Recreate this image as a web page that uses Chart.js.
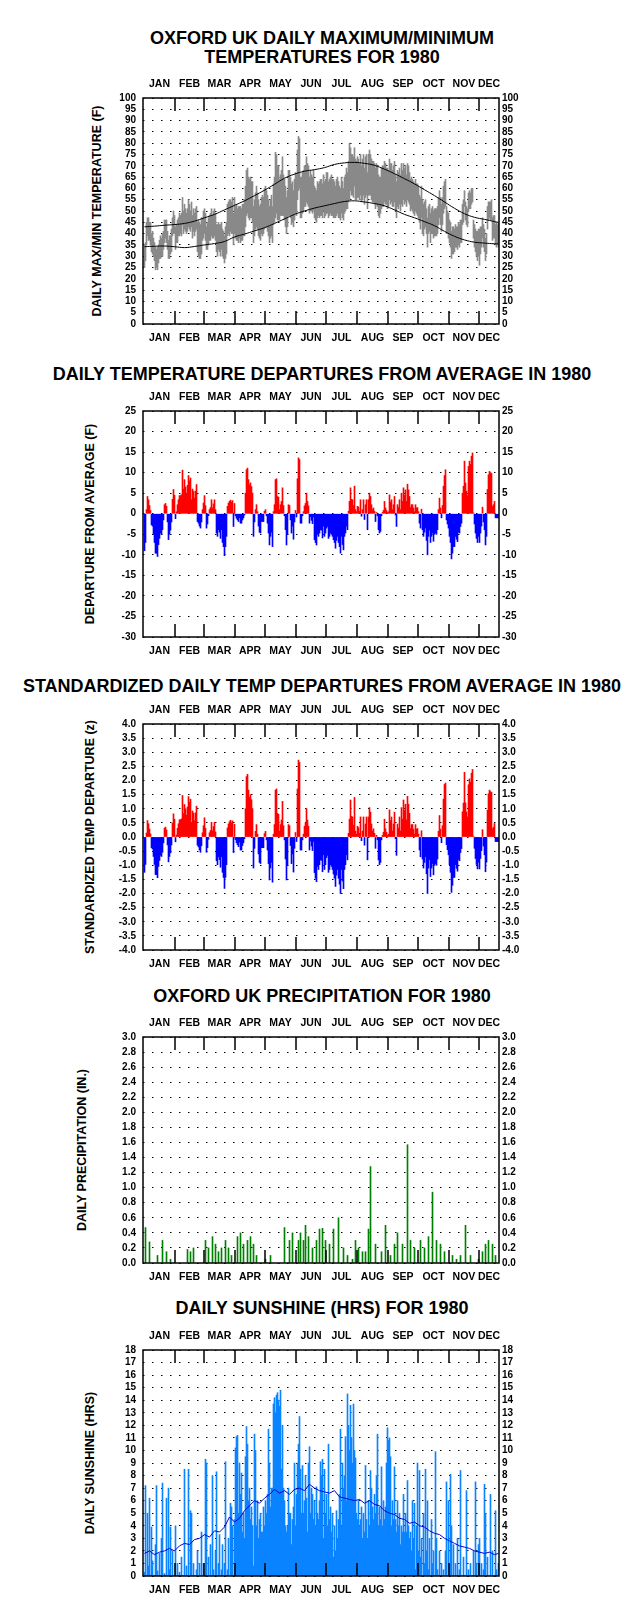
<!DOCTYPE html>
<html>
<head>
<meta charset="utf-8">
<script src="https://cdn.jsdelivr.net/npm/chart.js@4.4.1/dist/chart.umd.min.js"></script>
<style>
body { margin: 0; background: #fff; }
#page { position: relative; width: 644px; height: 1616px; font-family: "Liberation Sans", Arial, sans-serif; color: #000; }
canvas { position: absolute; left: 0; }
.title { position: absolute; left: 0; width: 644px; text-align: center; font-weight: bold; font-size: 18px; line-height: 20px; white-space: nowrap; }
.ytitle { position: absolute; font-weight: bold; font-size: 12.5px; white-space: nowrap; transform: translate(-50%, -50%) rotate(-90deg); }
</style>
</head>
<body>
<div id="page">
  <div class="title" style="top:28px">OXFORD UK DAILY MAXIMUM/MINIMUM</div>
  <div class="title" style="top:47px">TEMPERATURES FOR 1980</div>
  <div class="title" style="top:364px">DAILY TEMPERATURE DEPARTURES FROM AVERAGE IN 1980</div>
  <div class="title" style="top:676px">STANDARDIZED DAILY TEMP DEPARTURES FROM AVERAGE IN 1980</div>
  <div class="title" style="top:986px">OXFORD UK PRECIPITATION FOR 1980</div>
  <div class="title" style="top:1298px">DAILY SUNSHINE (HRS) FOR 1980</div>

  <div class="ytitle" style="left:97px; top:211px">DAILY MAX/MIN TEMPERATURE (F)</div>
  <div class="ytitle" style="left:90px; top:524px">DEPARTURE FROM AVERAGE (F)</div>
  <div class="ytitle" style="left:90px; top:837px">STANDARDIZED TEMP DEPARTURE (z)</div>
  <div class="ytitle" style="left:82px; top:1150px">DAILY PRECIPITATION (IN.)</div>
  <div class="ytitle" style="left:90px; top:1463px">DAILY SUNSHINE (HRS)</div>

  <canvas id="tempChart" width="644" height="286" style="top:68px"></canvas>
  <canvas id="depChart" width="644" height="286" style="top:381px"></canvas>
  <canvas id="zChart" width="644" height="286" style="top:694px"></canvas>
  <canvas id="rainChart" width="644" height="286" style="top:1007px"></canvas>
  <canvas id="sunChart" width="644" height="286" style="top:1320px"></canvas>
</div>
<script>
// calendar (1980 is a leap year); the plot only shows up to about Dec 20
const months = ['JAN', 'FEB', 'MAR', 'APR', 'MAY', 'JUN', 'JUL', 'AUG', 'SEP', 'OCT', 'NOV', 'DEC'];
const monthStarts = [0, 31, 60, 91, 121, 152, 182, 213, 244, 274, 305, 335];

// daily max / min temperature (F), Jan 1 onwards
const tmax = [
  35, 36, 45, 47, 47, 45, 45, 40, 41, 38,
  36, 34, 33, 34, 35, 37, 39, 38, 40, 41,
  46, 46, 46, 41, 37, 39, 39, 42, 47, 50,
  48, 43, 44, 46, 47, 49, 48, 49, 56, 50,
  53, 51, 49, 51, 55, 53, 50, 54, 48, 51,
  49, 51, 52, 45, 46, 45, 44, 47, 47, 50,
  51, 49, 43, 45, 47, 48, 49, 51, 48, 50,
  51, 49, 44, 44, 45, 44, 44, 45, 42, 41,
  39, 43, 45, 53, 54, 55, 55, 54, 56, 49,
  56, 52, 53, 51, 52, 52, 52, 51, 53, 53,
  55, 61, 68, 69, 65, 64, 65, 63, 63, 52,
  55, 58, 61, 58, 55, 52, 53, 56, 57, 56,
  60, 61, 59, 57, 55, 52, 55, 57, 52, 62,
  65, 76, 75, 70, 70, 64, 66, 68, 74, 66,
  64, 61, 56, 59, 68, 68, 65, 62, 63, 59,
  64, 67, 66, 77, 83, 82, 65, 65, 67, 68,
  70, 70, 74, 71, 70, 65, 68, 66, 65, 68,
  61, 60, 59, 63, 62, 63, 64, 64, 62, 66,
  63, 64, 67, 67, 63, 64, 65, 66, 64, 64,
  63, 61, 64, 65, 63, 61, 60, 65, 63, 60,
  65, 66, 69, 67, 72, 80, 78, 75, 75, 74,
  78, 73, 72, 74, 73, 71, 75, 70, 73, 75,
  69, 74, 75, 67, 75, 77, 75, 73, 72, 72,
  71, 69, 71, 70, 66, 65, 65, 69, 70, 70,
  72, 71, 69, 69, 68, 73, 71, 71, 68, 70,
  72, 66, 63, 68, 67, 69, 66, 71, 68, 71,
  69, 70, 66, 71, 70, 67, 64, 65, 64, 63,
  62, 64, 62, 62, 61, 57, 56, 61, 55, 53,
  54, 55, 51, 47, 52, 53, 49, 51, 52, 50,
  51, 51, 51, 52, 56, 59, 56, 53, 56, 61,
  63, 64, 52, 50, 49, 46, 45, 41, 43, 43,
  42, 44, 43, 43, 45, 44, 46, 46, 53, 55,
  59, 54, 52, 51, 58, 59, 58, 60, 60, 46,
  44, 42, 41, 41, 42, 42, 43, 43, 47, 44,
  42, 38, 40, 52, 54, 54, 54, 55, 47, 48,
  48, 44, 45, 44, 45
];
const tmin = [
  25, 28, 35, 39, 37, 37, 35, 32, 31, 30,
  28, 24, 25, 24, 27, 29, 29, 30, 30, 33,
  36, 38, 36, 33, 29, 29, 31, 32, 39, 40,
  40, 33, 36, 36, 39, 39, 40, 39, 44, 40,
  42, 41, 40, 41, 43, 42, 41, 43, 38, 41,
  39, 41, 42, 32, 30, 29, 29, 31, 37, 38,
  40, 37, 33, 33, 35, 37, 37, 39, 38, 38,
  39, 37, 32, 30, 33, 32, 30, 33, 30, 29,
  27, 29, 31, 39, 40, 39, 41, 40, 40, 35,
  40, 38, 37, 37, 36, 38, 36, 37, 37, 39,
  39, 43, 48, 49, 47, 46, 47, 47, 45, 36,
  39, 42, 43, 42, 39, 38, 37, 40, 39, 40,
  42, 43, 43, 41, 39, 36, 38, 39, 36, 44,
  45, 47, 49, 46, 46, 46, 48, 48, 48, 48,
  46, 43, 40, 43, 48, 48, 47, 44, 45, 43,
  46, 49, 48, 55, 59, 60, 47, 47, 49, 50,
  52, 52, 54, 53, 52, 49, 50, 50, 49, 50,
  47, 46, 45, 47, 48, 47, 48, 48, 47, 50,
  47, 48, 49, 49, 47, 48, 49, 48, 48, 47,
  47, 47, 48, 49, 47, 47, 46, 49, 47, 46,
  49, 50, 51, 51, 54, 55, 59, 57, 57, 56,
  61, 55, 55, 56, 56, 55, 57, 54, 55, 57,
  53, 56, 57, 51, 57, 57, 57, 55, 54, 54,
  53, 51, 53, 52, 48, 47, 49, 51, 52, 52,
  54, 53, 53, 51, 52, 55, 53, 54, 52, 52,
  54, 50, 47, 52, 51, 53, 50, 53, 52, 55,
  53, 54, 52, 55, 54, 53, 50, 51, 50, 49,
  48, 50, 49, 48, 47, 45, 42, 47, 40, 39,
  42, 43, 40, 34, 40, 41, 36, 40, 40, 38,
  39, 39, 39, 40, 44, 47, 44, 41, 44, 49,
  51, 52, 40, 40, 38, 36, 34, 29, 31, 31,
  32, 34, 34, 33, 35, 34, 36, 36, 44, 45,
  52, 46, 44, 43, 50, 51, 51, 53, 54, 38,
  34, 32, 30, 28, 30, 26, 31, 34, 38, 34,
  32, 28, 31, 42, 46, 47, 46, 46, 37, 38,
  38, 35, 34, 35, 34
];

// long-term normal max / min, read every 10 days
const normDays = [0, 10, 20, 30, 40, 50, 60, 70, 80, 90, 100, 110, 120, 130, 140, 150, 160, 170, 180,
  190, 200, 210, 220, 230, 240, 250, 260, 270, 280, 290, 300, 310, 320, 330, 340, 350, 354];
const normMax = [43, 43.3, 43.7, 44, 44.5, 45.5, 47, 48.5, 50.5, 52.5, 54.5, 56.8, 59.2, 61.8, 64.5, 66.3, 67.6, 68.3, 69.2,
  70.6, 71.3, 71.5, 71.1, 70.2, 68.5, 66.5, 64.3, 62, 59.4, 56.8, 54, 51.2, 48.8, 47.2, 46.3, 45.3, 45];
const normMin = [34.2, 34.4, 34.5, 34.2, 33.8, 34.3, 35, 35.6, 36.5, 38.5, 39.8, 41.2, 42.6, 44.5, 46.5, 48.5, 50, 51.3, 52.3,
  53.3, 54.2, 54.5, 54, 53.3, 52.3, 50.5, 48.5, 47, 45.3, 43.5, 41, 38.8, 37.2, 36.2, 35.8, 35.5, 35.5];

// daily departure from average (F)
const departure = [
  -9, -7, 1, 4.2, 3.4, 2, 0.8, -2.7, -3, -5,
  -7, -9.6, -9.6, -10.4, -7.5, -6, -4.7, -5, -3.9, -1.5,
  2.2, 2.5, 1.8, -2, -6.3, -5, -4, -2, 3.5, 5.9,
  4.5, -1.2, 0.5, 2.2, 3.4, 4.4, 4.4, 4.6, 10.6, 6,
  8.3, 6.5, 5, 6.9, 9.3, 8, 8.7, 3.4, 6, 5.5,
  3.8, 5.5, 7.1, -1.9, -2.3, -3, -3.5, -2, 1, 2.6,
  4.4, 2, -3.5, -2.5, -0.5, 1, 1.5, 3.4, 1.4, 2.4,
  3.4, 1, -4.7, -5.5, -3.9, -4.5, -6, -3.9, -7, -8,
  -10.2, -8, -5.5, 1.8, 2.6, 3, 3.3, 2.8, 3.2, -3.1,
  2.5, -0.5, -1.1, -1.5, -1.9, -1, -2.3, -2.3, -1.5, -1,
  -0.3, 5, 10.7, 11.1, 8.3, 7, 7.5, 6.6, 5, -5.5,
  -2, 1, 2.2, 0.5, -3, -4.5, -4.7, -1.9, -1.9, -1.9,
  0.6, 1, -0.5, -2.3, -4.7, -7.6, -5.5, -4.5, -8, 0.5,
  2.2, 8.3, 8.5, 4.2, 4, 1, 2.2, 3, 6.3, 2,
  -0.5, -3.9, -7.6, -5, 2.2, 2, -1.5, -4.7, -3, -6.2,
  -2, 0.8, -0.8, 8.5, 13.6, 13.2, -2.3, -2.3, -0.5, 0.5,
  1.9, 2.5, 5, 3, 1.9, -2.3, -0.7, -1.6, -2.4, -0.8,
  -6.3, -7, -7.6, -5, -5.5, -4.7, -3.9, -4, -5.9, -3,
  -5.5, -4.7, -3.5, -3.1, -6, -5.5, -4.7, -5, -5.5, -6.3,
  -7, -8.4, -6.5, -5.5, -7, -8, -9.6, -5.5, -7.5, -8.8,
  -5.5, -4.7, -3, -3.9, 0.6, 3, 6.3, 3.5, 3.4, 2,
  6.7, 1, 0.5, 1.8, 1.6, 0.6, 3.4, -0.6, 1, 3.4,
  -1.4, 2.2, 3.4, -3.9, 3.4, 5, 4.2, 2.2, 1, 1.4,
  0.6, -1.9, 0.3, -0.5, -3.9, -4.7, -4.3, -0.5, 0.3, 0.8,
  3, 1.4, 0.8, 0.3, 0.5, 4.6, 2.8, 3.4, 1, 2.2,
  4.2, -0.3, -3.1, 2.2, 1.5, 3.4, 1, 5, 3, 6.3,
  4.5, 5.8, 3, 7.2, 5.8, 4.2, 1.5, 2.2, 2.2, 1.4,
  0.5, 2.2, 1.4, 1.5, 0.5, -2.3, -3.5, 1.1, -3.9, -5.5,
  -4.5, -3.5, -6.5, -10, -5.5, -4, -7, -5.5, -4.7, -6.7,
  -5, -4.7, -5, -3.9, 1, 3.8, 1.4, -1, 2, 6.7,
  9.3, 10.7, -1.5, -2.5, -3.5, -5.5, -7, -11, -9.6, -8,
  -8, -5.5, -6.2, -6.8, -4.5, -4.7, -3.1, -2.3, 5, 6.7,
  12.8, 7.5, 5.5, 4.4, 11.5, 12.8, 12, 14, 14.8, 0.2,
  -2.5, -4.7, -6, -7, -5.5, -7, -4.7, -3, 1.6, -2,
  -3.9, -7.6, -5.5, 5.9, 9.5, 10.3, 10, 9.8, 1.8, 2.2,
  3, -1, -1, -1, -1
];

// standardized daily departure (z)
const zscore = [
  -1.25, -0.97, 0.14, 0.58, 0.47, 0.28, 0.11, -0.38, -0.42, -0.69,
  -0.97, -1.33, -1.33, -1.44, -1.04, -0.83, -0.65, -0.69, -0.54, -0.21,
  0.31, 0.35, 0.25, -0.28, -0.88, -0.69, -0.56, -0.28, 0.49, 0.82,
  0.63, -0.17, 0.07, 0.31, 0.47, 0.61, 0.61, 0.64, 1.47, 0.83,
  1.15, 1.0, 0.77, 1.06, 1.43, 1.23, 1.34, 0.52, 0.92, 0.85,
  0.58, 0.85, 1.09, -0.29, -0.35, -0.46, -0.54, -0.31, 0.15, 0.4,
  0.68, 0.31, -0.54, -0.38, -0.08, 0.15, 0.23, 0.52, 0.22, 0.37,
  0.52, 0.18, -0.84, -0.98, -0.7, -0.8, -1.07, -0.7, -1.25, -1.43,
  -1.82, -1.43, -0.98, 0.32, 0.46, 0.54, 0.59, 0.5, 0.57, -0.55,
  0.45, -0.09, -0.2, -0.27, -0.34, -0.18, -0.46, -0.46, -0.3, -0.2,
  -0.06, 1.0, 2.14, 2.22, 1.66, 1.4, 1.5, 1.32, 1.0, -1.1,
  -0.4, 0.2, 0.44, 0.1, -0.6, -0.9, -0.94, -0.38, -0.38, -0.38,
  0.12, 0.2, -0.1, -0.46, -0.94, -1.52, -1.1, -0.9, -1.6, 0.1,
  0.44, 1.66, 1.7, 0.84, 0.8, 0.2, 0.44, 0.6, 1.26, 0.4,
  -0.1, -0.78, -1.52, -1.0, 0.44, 0.4, -0.3, -0.94, -0.6, -1.24,
  -0.4, 0.16, -0.16, 1.7, 2.72, 2.64, -0.46, -0.46, -0.1, 0.1,
  0.38, 0.5, 1.0, 0.6, 0.38, -0.46, -0.14, -0.32, -0.48, -0.16,
  -1.26, -1.46, -1.58, -1.04, -1.15, -0.98, -0.81, -0.83, -1.23, -0.63,
  -1.15, -0.98, -0.73, -0.65, -1.25, -1.15, -0.98, -1.04, -1.15, -1.31,
  -1.46, -1.75, -1.35, -1.15, -1.46, -1.67, -2.0, -1.15, -1.56, -1.83,
  -1.15, -0.98, -0.63, -0.81, 0.13, 0.63, 1.31, 0.73, 0.71, 0.42,
  1.4, 0.21, 0.1, 0.38, 0.33, 0.13, 0.71, -0.13, 0.21, 0.71,
  -0.29, 0.46, 0.71, -0.81, 0.71, 1.04, 0.88, 0.46, 0.21, 0.29,
  0.13, -0.4, 0.06, -0.1, -0.81, -0.98, -0.9, -0.1, 0.06, 0.17,
  0.63, 0.29, 0.17, 0.06, 0.1, 0.96, 0.58, 0.71, 0.21, 0.46,
  0.88, -0.06, -0.65, 0.46, 0.31, 0.71, 0.21, 1.04, 0.63, 1.31,
  0.94, 1.16, 0.6, 1.44, 1.16, 0.84, 0.3, 0.44, 0.44, 0.28,
  0.1, 0.44, 0.28, 0.3, 0.1, -0.46, -0.7, 0.22, -0.78, -1.1,
  -0.9, -0.7, -1.3, -2.0, -1.1, -0.8, -1.4, -1.1, -0.94, -1.34,
  -1.0, -0.94, -1.0, -0.78, 0.2, 0.76, 0.28, -0.2, 0.4, 1.34,
  1.86, 1.91, -0.27, -0.45, -0.63, -0.98, -1.25, -1.96, -1.71, -1.43,
  -1.43, -0.98, -1.11, -1.21, -0.8, -0.84, -0.55, -0.41, 0.89, 1.2,
  2.29, 1.21, 0.89, 0.71, 1.85, 2.06, 1.94, 2.26, 2.39, 0.03,
  -0.4, -0.76, -0.97, -1.13, -0.89, -1.13, -0.76, -0.48, 0.26, -0.32,
  -0.63, -1.23, -0.89, 0.95, 1.53, 1.66, 1.61, 1.58, 0.29, 0.35,
  0.48, -0.16, -0.16, -0.16, -0.16
];

// wet days (day of year, from 0) and amount (inches)
const rainDays = [1, 5, 13, 18, 22, 26, 43, 46, 49, 61, 64, 68, 71, 74, 77, 81, 84, 87,
  93, 96, 99, 103, 106, 109, 112, 121, 126, 140, 145, 148, 154, 156, 159, 161, 164, 168, 172, 175, 178, 181,
  185, 189, 194, 199, 203, 208, 211, 214, 218, 221, 224, 226, 231, 237, 241, 246, 250, 253, 258, 263, 266, 270,
  276, 280, 284, 288, 292, 296, 300, 308, 312, 316, 321, 326, 334, 338, 341, 344, 348, 351];
const rainInches = [0.47, 0.28, 0.1, 0.3, 0.15, 0.05, 0.18, 0.15, 0.2, 0.3, 0.2, 0.35, 0.25, 0.15, 0.2, 0.3, 0.2, 0.1,
  0.35, 0.4, 0.25, 0.3, 0.35, 0.25, 0.1, 0.05, 0.1, 0.47, 0.3, 0.4, 0.3, 0.4, 0.3, 0.5, 0.35, 0.2, 0.3, 0.45, 0.46, 0.3,
  0.25, 0.45, 0.6, 0.2, 0.1, 0.05, 0.3, 0.2, 0.15, 0.15, 0.45, 1.28, 0.25, 0.15, 0.5, 0.1, 0.25, 0.4, 0.25, 1.57, 0.3, 0.2,
  0.3, 0.2, 0.35, 0.94, 0.3, 0.25, 0.15, 0.1, 0.05, 0.1, 0.5, 0.1, 0.05, 0.15, 0.25, 0.3, 0.25, 0.1];

// daily sunshine (hours)
const sunshine = [
  0.3, 7.2, 0, 5.0, 0.8, 6.2, 0, 3.9, 1.2, 0,
  0, 2.5, 7.2, 0.4, 0, 1.8, 0, 3.0, 7.4, 0,
  0.2, 0, 6.2, 0, 7.0, 0.5, 3.9, 0, 2.0, 0,
  0, 4.0, 0, 1.0, 0, 0.3, 0, 1.5, 0, 0,
  8.5, 0, 0.8, 0, 8.5, 0, 5.2, 5.0, 0, 1.0,
  0, 0, 0.5, 2.0, 0, 1.0, 0, 3.5, 0, 1.0,
  0, 9.3, 9.0, 0, 1.5, 0, 2.5, 0, 8.0, 0.5,
  0, 2.0, 8.3, 0, 1.0, 3.3, 0, 0.5, 2.5, 0,
  1.0, 9.1, 0, 0.5, 3.0, 0, 5.8, 5.5, 4.0, 0,
  4.5, 10.2, 11.1, 11.2, 5.0, 9.0, 6.5, 8.2, 3.5, 5.0,
  3.0, 9.5, 11.9, 10.5, 6.0, 7.0, 4.5, 5.5, 4.0, 0.8,
  11.3, 10.0, 4.0, 6.0, 3.0, 4.5, 5.0, 3.5, 3.5, 5.5,
  4.0, 6.0, 5.0, 6.5, 11.7, 9.0, 5.5, 7.0, 7.0, 13.7,
  14.2, 13.0, 14.4, 14.6, 14.0, 13.5, 14.8, 8.5, 12.0, 7.0,
  6.0, 4.0, 3.5, 4.0, 7.0, 5.0, 5.0, 2.5, 4.5, 5.5,
  9.0, 4.0, 6.5, 9.0, 10.5, 12.7, 8.5, 5.0, 8.8, 5.0,
  6.0, 8.0, 6.2, 3.5, 9.0, 10.3, 5.0, 7.0, 6.5, 4.5,
  6.0, 4.0, 7.1, 5.0, 4.5, 6.0, 9.1, 8.0, 9.3, 3.0,
  8.5, 5.0, 6.5, 4.0, 10.5, 4.5, 5.5, 3.5, 5.0, 1.5,
  4.0, 2.0, 5.2, 3.0, 4.5, 6.5, 11.7, 4.0, 9.0, 7.0,
  8.0, 11.1, 6.0, 14.5, 12.0, 10.0, 13.6, 11.0, 9.0, 13.7,
  10.0, 9.4, 5.0, 4.5, 6.0, 4.0, 4.5, 5.5, 3.0, 5.0,
  3.5, 8.8, 4.5, 3.0, 6.0, 4.0, 8.4, 7.0, 5.5, 4.5,
  6.5, 5.0, 8.0, 11.3, 4.0, 5.5, 4.5, 8.7, 4.0, 6.0,
  4.5, 5.5, 9.0, 11.8, 10.8, 11.0, 9.5, 4.0, 6.0, 4.5,
  8.7, 4.5, 3.5, 6.0, 4.0, 5.0, 2.5, 4.0, 3.5, 6.5,
  3.5, 5.0, 3.5, 7.6, 4.0, 3.0, 3.5, 2.0, 6.0, 3.0,
  5.8, 0.5, 4.0, 9.0, 2.0, 8.4, 1.5, 3.0, 0, 5.0,
  1.0, 8.5, 2.0, 6.0, 0.5, 3.0, 0, 4.5, 1.0, 2.0,
  0, 9.9, 3.0, 0.5, 0, 2.0, 0, 1.0, 0, 0.5,
  0, 2.0, 7.5, 0, 6.0, 1.0, 8.1, 4.0, 0, 2.5,
  0, 1.0, 0, 3.0, 0, 0.5, 8.4, 0, 0, 1.5,
  0, 0, 6.8, 0, 0.5, 0, 1.0, 0, 0, 2.0,
  0, 7.5, 1.0, 0, 2.5, 3.0, 0, 1.0, 0, 0.5,
  7.3, 5.0, 0, 1.5, 0, 0, 6.5, 0, 2.0, 0,
  0, 5.2, 0.5, 0, 1.0
];

// average sunshine, read every 5 days
const sunAvgDays = [0, 5, 10, 15, 20, 25, 30, 35, 40, 45, 50, 55, 60, 65, 70, 75, 80, 85, 90, 95, 100, 105, 110, 115,
  120, 125, 130, 135, 140, 145, 150, 155, 160, 165, 170, 175, 180, 185, 190, 195, 200, 205, 210, 215, 220, 225, 230,
  235, 240, 245, 250, 255, 260, 265, 270, 275, 280, 285, 290, 295, 300, 305, 310, 315, 320, 325, 330, 335, 340, 345, 350, 354];
const sunAvg = [1.8, 2.0, 1.7, 1.9, 2.0, 2.2, 2.0, 2.4, 2.6, 2.5, 2.9, 3.0, 3.3, 3.1, 3.6, 3.5, 3.9, 4.7, 4.3, 4.6, 5.2, 5.6, 6.0, 5.8,
  6.2, 6.5, 6.9, 6.6, 6.8, 6.5, 6.9, 7.0, 6.8, 7.3, 7.0, 6.8, 6.7, 6.6, 6.8, 6.3, 6.2, 6.1, 6.0, 6.1, 5.8, 6.0, 5.7,
  5.6, 5.2, 5.0, 4.9, 4.6, 4.5, 4.2, 4.3, 4.0, 3.9, 3.6, 3.4, 3.3, 3.0, 2.8, 2.6, 2.4, 2.3, 2.2, 2.0, 1.9, 1.8, 1.9, 1.7, 1.8];

// ---------------------------------------------------------------
const FONT = 'Liberation Sans';
const X_MIN = -1, X_MAX = 355;
Chart.defaults.font.family = FONT;
Chart.defaults.color = '#000';

// month label positions: middle of each month (Dec only partly visible)
const monthMid = monthStarts.map((s, i) => (s + (i < 11 ? monthStarts[i + 1] : X_MAX)) / 2);

function dayPoints(values) {
  return values.map((v, i) => ({x: i + 0.5, y: v}));
}

function monthAxis(pos) {
  return {
    type: 'linear', position: pos, min: X_MIN, max: X_MAX, offset: false,
    grid: {display: false, drawTicks: false}, border: {display: false},
    afterBuildTicks: s => { s.ticks = monthMid.map(v => ({value: v})); },
    afterFit: s => { s.height = 30; },
    ticks: {autoSkip: false, maxRotation: 0, minRotation: 0, padding: 8,
      font: {size: 10.5, weight: 'bold'}, callback: (v, i) => months[i]}
  };
}

function valueAxes(min, max, step, digits) {
  const tk = {stepSize: step, autoSkip: false, maxTicksLimit: 100, font: {size: 10, weight: 'bold'},
    callback: v => Number(v).toFixed(digits)};
  return {
    y: {type: 'linear', position: 'left', min, max,
      ticks: Object.assign({padding: 7}, tk),
      grid: {color: '#000', lineWidth: 1, drawTicks: false},
      border: {display: false, dash: [1.5, 7.5]},
      afterFit: s => { s.width = 143; }},
    y2: {type: 'linear', position: 'right', min, max,
      ticks: Object.assign({padding: 3}, tk),
      grid: {display: false, drawTicks: false}, border: {display: false},
      afterFit: s => { s.width = 145; }}
  };
}

// frame round the plot and the month boundary marks
const framePlugin = {
  id: 'frame',
  afterDatasetsDraw(chart) {
    const {ctx, chartArea: a} = chart;
    const x = chart.scales.x;
    ctx.save();
    ctx.strokeStyle = '#000';
    ctx.lineWidth = 1.5;
    ctx.strokeRect(a.left, a.top, a.right - a.left, a.bottom - a.top);
    ctx.beginPath();
    monthStarts.slice(1).forEach(d => {
      const px = Math.round(x.getPixelForValue(d));
      ctx.moveTo(px, a.top); ctx.lineTo(px, a.top + 13);
      ctx.moveTo(px, a.bottom); ctx.lineTo(px, a.bottom - 13);
    });
    ctx.stroke();
    ctx.restore();
  }
};

function makeChart(id, datasets, yMin, yMax, step, digits) {
  return new Chart(document.getElementById(id), {
    type: 'bar',
    data: {datasets},
    options: {
      responsive: false, animation: false,
      layout: {padding: 0},
      plugins: {legend: {display: false}, tooltip: {enabled: false}},
      scales: Object.assign({x: monthAxis('bottom'), x2: monthAxis('top')}, valueAxes(yMin, yMax, step, digits))
    },
    plugins: [framePlugin]
  });
}

const barBase = {barThickness: 1, borderWidth: 0, grouped: false};

// Max/min temperatures
makeChart('tempChart', [
  {type: 'line', data: normDays.map((d, i) => ({x: d + 0.5, y: normMax[i]})), borderColor: '#000', borderWidth: 1, pointRadius: 0, tension: 0.4, order: 0},
  {type: 'line', data: normDays.map((d, i) => ({x: d + 0.5, y: normMin[i]})), borderColor: '#000', borderWidth: 1, pointRadius: 0, tension: 0.4, order: 0},
  Object.assign({data: tmax.map((v, i) => ({x: i + 0.5, y: [tmin[i], v]})), backgroundColor: '#8a8a8a', order: 1}, barBase)
], 0, 100, 5, 0);

// Departures
const redBlue = c => (c.raw && c.raw.y >= 0) ? '#ff0000' : '#0000ff';
makeChart('depChart', [
  Object.assign({data: dayPoints(departure), backgroundColor: redBlue}, barBase)
], -30, 25, 5, 0);

makeChart('zChart', [
  Object.assign({data: dayPoints(zscore), backgroundColor: redBlue}, barBase)
], -4, 4, 0.5, 1);

// Precipitation
makeChart('rainChart', [
  Object.assign({data: rainDays.map((d, i) => ({x: d + 0.5, y: rainInches[i]})), backgroundColor: '#008000'}, barBase)
], 0, 3, 0.2, 1);

// Sunshine
makeChart('sunChart', [
  {type: 'line', data: sunAvgDays.map((d, i) => ({x: d + 0.5, y: sunAvg[i]})), borderColor: '#0000d0', borderWidth: 1, pointRadius: 0, tension: 0, order: 0},
  Object.assign({data: dayPoints(sunshine), backgroundColor: '#0a84ff', order: 1}, barBase)
], 0, 18, 1, 0);
</script>
</body>
</html>
